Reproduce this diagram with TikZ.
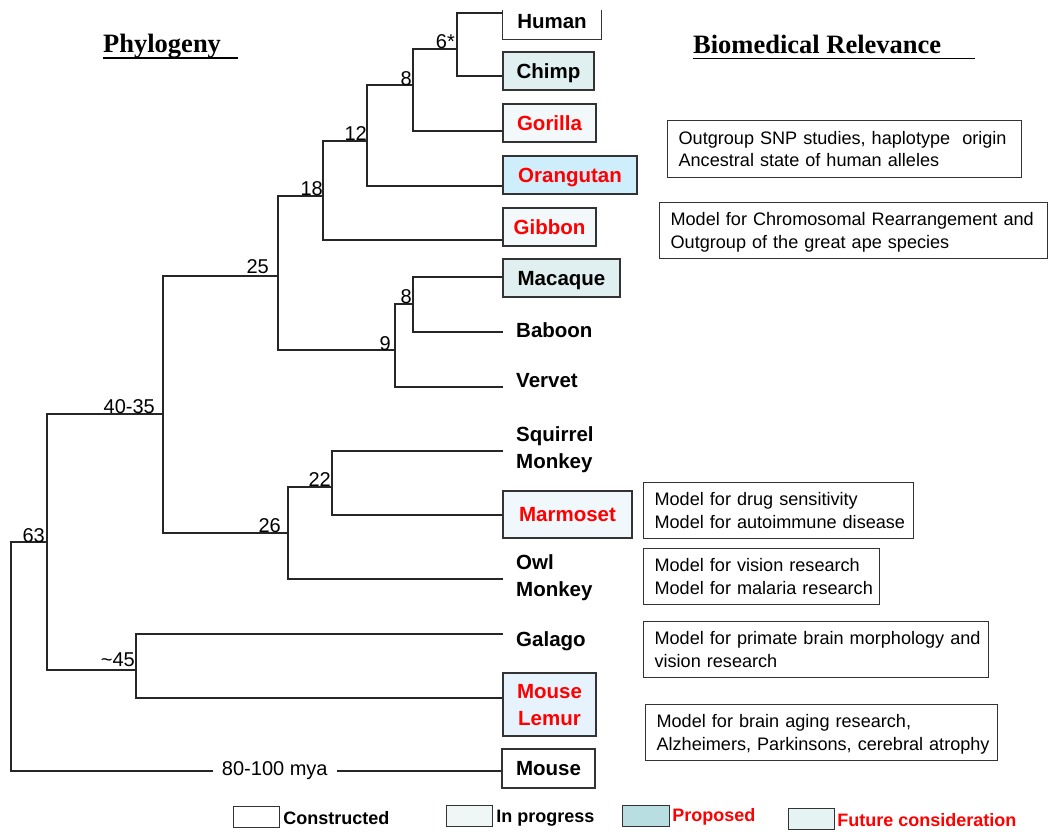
\documentclass[tikz,border=0pt]{standalone}
\usepackage{fontspec}
\setmainfont{Liberation Sans}
\newfontfamily\serifhead{Liberation Serif}
\usetikzlibrary{calc}
\definecolor{cInprog}{HTML}{E0EFEF}
\definecolor{cGor}{HTML}{F3F9FA}
\definecolor{cOrang}{HTML}{CEEEFB}
\definecolor{cMarm}{HTML}{F1F8FC}
\definecolor{cLemur}{HTML}{E7F3FC}
\definecolor{cLegIn}{HTML}{EEF6F6}
\definecolor{cLegProp}{HTML}{B8DEE2}
\definecolor{cLegFut}{HTML}{E5F3F3}
\definecolor{redtxt}{HTML}{FF0000}
\begin{document}
\begin{tikzpicture}[x=1pt,y=-1pt,
  branch/.style={draw=black!85, line width=1.2pt},
  boxline/.style={draw=black!80, line width=1.3pt},
  sp/.style={font=\fontsize{20.5}{27}\selectfont\bfseries, inner xsep=13pt, inner ysep=0pt, text depth=0pt, align=left},
  spbox/.style={sp, inner xsep=3pt, boxline, align=center},
  age/.style={font=\fontsize{20}{24}\selectfont, inner sep=0pt, anchor=base east},
  note/.style={boxline, line width=1.2pt, anchor=north west, align=left, inner xsep=11pt, inner ysep=0pt, text height=13pt, text depth=22.5pt, font=\fontsize{18.1}{22.5}\selectfont},
  legbox/.style={draw=black!80, line width=1.2pt, anchor=north west, inner sep=0pt, minimum height=21pt},
  legtext/.style={font=\fontsize{18}{20}\selectfont\bfseries, anchor=west, inner sep=0pt, text depth=0pt},
  head/.style={font=\fontsize{26.5}{30}\selectfont\serifhead\bfseries, anchor=base west, inner sep=0pt}
]
\useasboundingbox (0,0) rectangle (1050,831);

% headings
\node[head] (phylo) at (103,52.7) {Phylogeny};
\draw[line width=1.4pt] ($(phylo.base west)+(0,5.3)$) -- ++(135,0);
\node[head] (biomed) at (693,53) {Biomedical Relevance};
\draw[line width=1.4pt] ($(biomed.base west)+(0,5.3)$) -- ++(282,0);

% species
\node[sp, inner xsep=3pt, align=center, minimum width=98pt, minimum height=36pt] (human) at (552,21) {Human};
\draw[boxline] ($(human.north west)+(0,7)$) |- (human.south east) -- ($(human.north east)+(0,7)$);
\node[spbox, fill=cInprog, minimum width=91pt, minimum height=38pt] (chimp) at (548.5,71) {Chimp};
\node[spbox, fill=cGor, text=redtxt, minimum width=93pt, minimum height=38pt] (gorilla) at (549.5,123) {Gorilla};
\node[spbox, fill=cOrang, text=redtxt, minimum width=134pt, minimum height=38pt] (orang) at (570,175) {Orangutan};
\node[spbox, fill=cGor, text=redtxt, minimum width=93pt, minimum height=38pt] (gibbon) at (549.5,227) {Gibbon};
\node[spbox, fill=cInprog, minimum width=117pt, minimum height=38pt] (macaque) at (561.5,278) {Macaque};
\node[sp, anchor=west] (baboon) at (503,330) {Baboon};
\node[sp, anchor=west] (vervet) at (503,380.5) {Vervet};
\node[sp, anchor=west] (squirrel) at (503,447.5) {Squirrel\\Monkey};
\node[spbox, fill=cMarm, text=redtxt, minimum width=129pt, minimum height=47pt] (marmoset) at (567.5,514.5) {Marmoset};
\node[sp, anchor=west] (owl) at (503,575.5) {Owl\\Monkey};
\node[sp, anchor=west] (galago) at (503,639) {Galago};
\node[spbox, fill=cLemur, text=redtxt, minimum width=93pt, minimum height=63pt] (lemur) at (549.5,704.5) {Mouse\\Lemur};
\node[spbox, minimum width=93pt, minimum height=39pt] (mouse) at (548.5,768.5) {Mouse};

% internal nodes
\coordinate (c6) at (457,49);
\coordinate (c8) at (413,85);
\coordinate (c12) at (367,141);
\coordinate (c18) at (323,196);
\coordinate (c25) at (278,276);
\coordinate (c8b) at (413,304);
\coordinate (c9) at (395,350);
\coordinate (c4035) at (163,414);
\coordinate (c22) at (332,487);
\coordinate (c26) at (288,533);
\coordinate (c63) at (47,542);
\coordinate (c45) at (136,670);
\coordinate (croot) at (11,542);

% branches
\draw[branch] ($(human.west)+(0,-8)$) -| (c6) |- ($(chimp.west)+(0,5)$);
\draw[branch] (c6) -| (c8) |- ($(gorilla.west)+(0,8)$);
\draw[branch] (c8) -| (c12) |- ($(orang.west)+(0,11)$);
\draw[branch] (c12) -| (c18) |- ($(gibbon.west)+(0,13)$);
\draw[branch] (c18) -| (c25) |- (c9);
\draw[branch] ($(macaque.west)+(0,-1)$) -| (c8b) |- ($(baboon.west)+(0,2)$);
\draw[branch] (c8b) -| (c9) |- ($(vervet.west)+(0,6.5)$);
\draw[branch] (c25) -| (c4035) |- (c26);
\draw[branch] ($(squirrel.west)+(0,3.5)$) -| (c22) |- ($(marmoset.west)+(0,0.5)$);
\draw[branch] (c22) -| (c26) |- ($(owl.west)+(0,3.5)$);
\draw[branch] (c4035) -| (c63) |- (c45);
\draw[branch] ($(galago.west)+(0,-5)$) -| (c45) |- ($(lemur.west)+(0,-6.5)$);
\draw[branch] (c63) -- (croot) |- node[pos=0.769, fill=white, inner xsep=9pt, inner ysep=2pt, font=\fontsize{20}{24}\selectfont] (mya) {80-100 mya} ($(mouse.west)+(0,2.5)$);

% ages
\node[age] (a6) at (455,48) {6*};
\node[age] (a8) at (412,85) {8};
\node[age] (a12) at (367,140) {12};
\node[age] (a18) at (323,195) {18};
\node[age] (a25) at (269,273) {25};
\node[age] (a8b) at (412,303) {8};
\node[age] (a9) at (391,350) {9};
\node[age] (a4035) at (155,413) {40-35};
\node[age] (a22) at (331,486) {22};
\node[age] (a26) at (281,532) {26};
\node[age] (a63) at (45,542) {63};
\node[age] (a45) at (135,666) {\textasciitilde45};

% notes
\node[note, text width=332pt, minimum height=57pt] (n1) at (667,120) {\mbox{Outgroup SNP studies, haplotype\ \ origin}\\\mbox{Ancestral state of human alleles}};
\node[note, text width=366pt, minimum height=56pt] (n2) at (659,202) {\mbox{Model for Chromosomal Rearrangement and}\\\mbox{Outgroup of the great ape species}};
\node[note, text width=248pt, minimum height=56pt] (n3) at (643,482) {\mbox{Model for drug sensitivity}\\\mbox{Model for autoimmune disease}};
\node[note, text width=214pt, minimum height=56pt] (n4) at (643,548) {\mbox{Model for vision research}\\\mbox{Model for malaria research}};
\node[note, text width=323pt, minimum height=56pt] (n5) at (643,621) {\mbox{Model for primate brain morphology and}\\\mbox{vision research}};
\node[note, text width=330pt, minimum height=56pt] (n6) at (645,704) {\mbox{Model for brain aging research,}\\\mbox{Alzheimers, Parkinsons, cerebral atrophy}};

% legend
\node[legbox, fill=white, minimum width=46pt] (lg1) at (233,806) {};
\node[legtext] (lt1) at ($(lg1.east)+(3,1)$) {Constructed};
\node[legbox, fill=cLegIn, minimum width=46pt] (lg2) at (446,805) {};
\node[legtext] (lt2) at ($(lg2.east)+(3,0)$) {In progress};
\node[legbox, fill=cLegProp, minimum width=47pt] (lg3) at (622,805) {};
\node[legtext, text=redtxt] (lt3) at ($(lg3.east)+(2,-1)$) {Proposed};
\node[legbox, fill=cLegFut, minimum width=46pt] (lg4) at (788,808) {};
\node[legtext, text=redtxt] (lt4) at ($(lg4.east)+(2,1)$) {Future consideration};
\end{tikzpicture}
\end{document}
